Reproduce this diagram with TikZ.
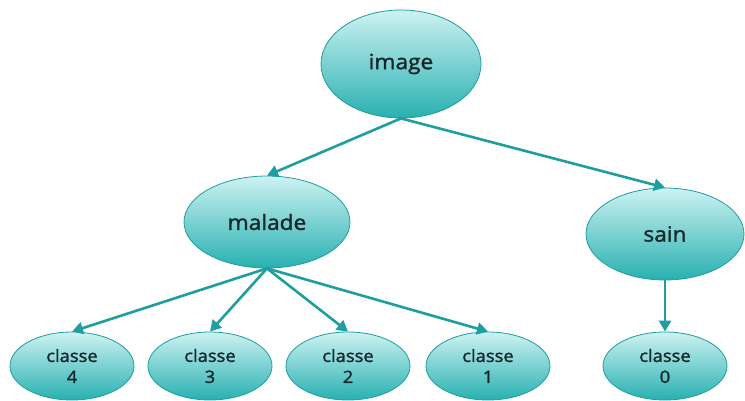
\documentclass[tikz,border=0pt]{standalone}
\usepackage{fontspec}
\setmainfont{Open Sans}[FakeStretch=1.08, FakeBold=1.4]
\usepackage{xcolor}
\usepackage{tikz}
\usetikzlibrary{positioning, shapes.geometric, arrows.meta}
\definecolor{tealtop}{RGB}{205, 242, 242}
\definecolor{tealmid}{RGB}{112, 208, 208}
\definecolor{tealbottom}{RGB}{40, 176, 176}
\definecolor{tealline}{RGB}{30, 158, 158}
\definecolor{labeltext}{RGB}{20, 38, 42}
\tikzset{
    base/.style={ellipse, draw=tealline, thick, top color=tealtop, middle color=tealmid, bottom color=tealbottom, text=labeltext, align=center, inner sep=0pt},
    bignode/.style={base, font=\fontsize{21}{24}\selectfont},
    leaf/.style={base, minimum width=124pt, minimum height=68pt, font=\fontsize{17}{21}\selectfont},
    arrow/.style={-{Triangle[length=11pt, width=12pt]}, line width=2.6pt, draw=tealline}
}

\begin{document}
\begin{tikzpicture}[x=1pt, y=1pt, on grid]
\useasboundingbox (0,0) rectangle (745,-401);

% Nodes
\node[bignode, minimum width=160pt, minimum height=108pt] (image) at (401,-64) {image};
\node[bignode, minimum width=166pt, minimum height=92pt, below left=158pt and 134pt of image] (malade) {malade};
\node[bignode, minimum width=158pt, minimum height=92pt, below right=170pt and 264pt of image] (sain) {sain};
\node[leaf, below left=144pt and 195pt of malade] (classe4) {classe\\4};
\node[leaf, right=138pt of classe4] (classe3) {classe\\3};
\node[leaf, right=138pt of classe3] (classe2) {classe\\2};
\node[leaf, right=140pt of classe2] (classe1) {classe\\1};
\node[leaf, below=132pt of sain] (classe0) {classe\\0};

% Edges
\draw[arrow] (image.south) -- (malade.north);
\draw[arrow] (image.south) -- (sain.north);
\draw[arrow] (malade.south) -- (classe4.north);
\draw[arrow] (malade.south) -- (classe3.north);
\draw[arrow] (malade.south) -- (classe2.north);
\draw[arrow] (malade.south) -- (classe1.north);
\draw[arrow] (sain.south) -- (classe0.north);

\end{tikzpicture}
\end{document}
